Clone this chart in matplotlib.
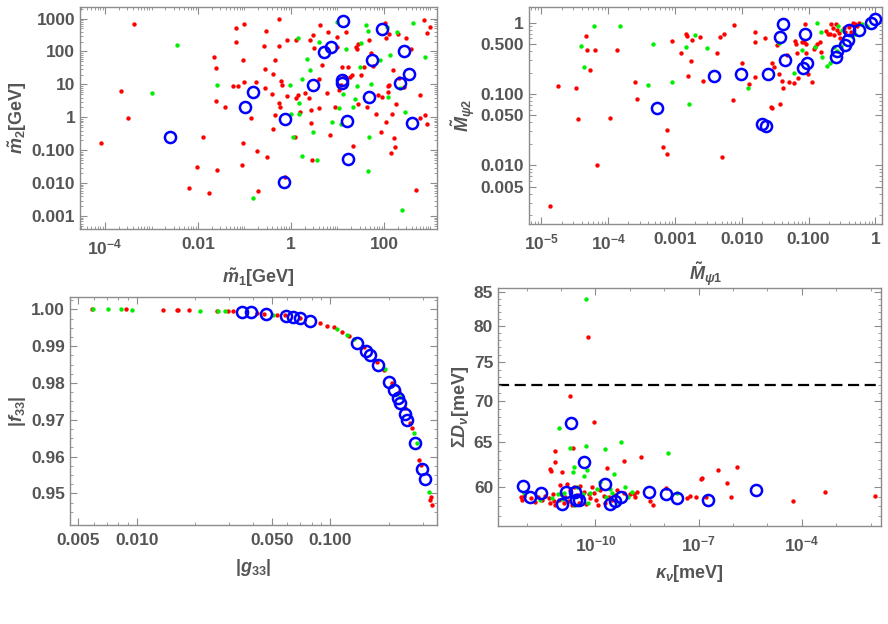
import matplotlib
matplotlib.use('Agg')
import matplotlib.pyplot as plt
from matplotlib.ticker import FixedLocator, NullFormatter, LogLocator

# ---------------- panel 1: m1 vs m2 ----------------
p1_red_x = [8.2e-5, 2.2e-4, 3.2e-4, 4.2e-4, 6.5e-3, 9.5e-3, 0.013, 0.017, 0.022, 0.024, 0.024, 0.039,
            0.026, 0.058, 0.065, 0.067, 0.071, 0.093, 0.09, 0.093, 0.10, 0.10, 0.135, 0.18, 0.19, 0.20,
            0.29, 0.30, 0.26, 0.27, 0.28, 0.42, 0.39, 0.42, 0.46, 0.55, 0.54, 0.54, 0.58, 0.60, 0.64,
            0.45, 0.74, 0.83, 0.83, 1.2, 1.3, 1.4, 1.3, 1.6, 2.0, 2.4, 2.6, 2.7, 2.7, 2.9, 3.0, 3.2,
            4.0, 4.1, 4.2, 4.6, 6.0, 6.2, 6.9, 8.7, 9.6, 10, 11, 12, 12.6, 14, 15, 17, 19, 21, 22, 25,
            26, 28, 27, 32, 38, 43, 48, 52, 59, 67, 73, 85, 91, 105, 109, 110, 120, 120, 126, 130, 139,
            148, 158, 167, 175, 180, 196, 208, 265, 295, 380, 500, 610, 610, 710, 760, 830, 850, 1000]
p1_red_y = [0.17, 6.4, 0.93, 700, 0.0071, 0.032, 0.25, 0.005, 69, 32, 3.1, 2.0,
            0.026, 8.9, 520, 195, 8.9, 55, 0.036, 0.17, 700, 12, 0.93, 12, 0.098, 0.006,
            415, 0.065, 150, 30, 7.6, 21, 5, 0.43, 55, 950, 145, 2.7, 2.1, 13, 9.6,
            1.2, 0.016, 220, 4.4, 0.26, 220, 4.7, 3.8, 1.5, 5.6, 4.0, 220, 1.7, 0.69, 0.051, 310, 130,
            15, 1.9, 630, 39, 5.4, 400, 0.29, 2.1, 140, 280, 6.7, 9.6, 33, 18, 380, 35, 17, 19, 0.135, 138,
            123, 174, 2.5, 19, 35, 2.0, 220, 87, 37, 1.3, 4.7, 0.37, 4.2, 740, 265, 0.74, 8.9, 6, 350, 9.6, 0.081,
            1.26, 27, 0.23, 0.13, 2.6, 350, 16, 8.1, 260, 115, 0.0063, 4.7, 0.98, 930, 1.17, 355, 0.63, 560]
p1_green_x = [3.5e-3, 1.0e-3, 0.025, 0.155, 0.95, 1.0, 1.1, 1.4, 1.5, 1.5, 1.7, 1.7, 2.2, 2.6, 3.0,
              3.7, 4.1, 7.5, 10, 11, 12, 13, 15, 22, 24, 26, 30, 32, 42, 45, 47, 45, 52, 82, 114,
              135, 120, 190, 220, 280, 240, 430, 760]
p1_green_y = [155, 5.4, 9.6, 0.0037, 9.6, 1.23, 0.26, 265, 2.8, 1.26, 15, 0.069, 59, 27, 0.35,
              0.051, 195, 0.74, 790, 1.9, 0.63, 5.1, 117, 2.1, 3.5, 8.9, 35, 182, 630, 430, 0.26, 0.024, 10, 55, 560,
              78, 4.2, 400, 7.6, 1.5, 0.0015, 710, 69]
p1_blue_x = [2.5e-3, 0.105, 0.155, 0.71, 0.74, 3.0, 5.1, 7.2, 12.3, 12.3, 13.4, 15.8, 17, 48, 54,
             91, 220, 275, 350, 405]
p1_blue_y = [0.26, 2.05, 5.7, 0.011, 0.87, 9.6, 98, 138, 13.5, 11.2, 850, 0.78, 0.053, 4.2, 55,
             465, 10.7, 105, 21, 0.66]

# ---------------- panel 2: M_psi1 vs M_psi2 ----------------
p2_red_x = [1.33e-5, 1.74e-5, 3.3e-5, 3.5e-5, 4.7e-5, 4.8e-5, 5.4e-5, 6.3e-5, 6.8e-5, 1.08e-4, 1.36e-4,
            2.5e-4, 2.7e-4, 6.6e-4, 7.7e-4, 7.7e-4, 9.1e-4, 1.24e-3, 1.48e-3, 1.53e-3, 1.58e-3, 1.76e-3,
            1.82e-3, 2.4e-3, 2.66e-3, 4.3e-3, 4.8e-3, 5.0e-3, 5.4e-3, 7.3e-3, 7.7e-3, 0.010, 0.0157,
            0.0158, 0.0158, 0.013, 0.022, 0.027, 0.028, 0.0285, 0.030, 0.034, 0.036, 0.0376, 0.040,
            0.041, 0.048, 0.051, 0.060, 0.063, 0.066, 0.068, 0.070, 0.081, 0.086, 0.089, 0.092, 0.093,
            0.099, 0.111, 0.122, 0.126, 0.148, 0.153, 0.182, 0.193, 0.216, 0.23, 0.243, 0.257, 0.27,
            0.29, 0.335, 0.35, 0.41, 0.47, 0.50, 0.53, 0.58, 0.44, 0.21, 0.30, 0.135]
p2_red_y = [0.0027, 0.13, 0.123, 0.045, 0.65, 0.42, 0.215, 0.42, 0.010, 0.046, 0.42,
            0.148, 0.085, 0.018, 0.031, 0.0144, 0.55, 0.37, 0.70, 0.66, 0.18, 0.29,
            0.57, 0.62, 0.154, 0.38, 0.64, 0.013, 0.69, 0.083, 0.92, 0.27, 0.74,
            0.54, 0.175, 0.136, 0.60, 0.066, 0.064, 0.27, 0.24, 0.48, 0.19, 0.072, 0.154,
            0.123, 0.35, 0.148, 0.144, 0.55, 0.51, 0.37, 0.17, 0.54, 0.54, 0.97, 0.51, 0.37,
            0.19, 0.148, 0.43, 0.46, 0.54, 0.39, 0.76, 0.70, 0.95, 0.85, 0.68, 0.97, 0.78,
            0.72, 0.83, 0.74, 0.87, 0.99, 0.95, 0.89, 0.99, 0.74, 0.70, 0.60, 0.51]
p2_green_x = [3.9e-5, 4.3e-5, 6.2e-5, 1.48e-4, 3.9e-4, 4.7e-4, 9.1e-4, 1.48e-3, 1.62e-3, 2.0e-3,
              3.05e-3, 0.0124, 0.036, 0.061, 0.081, 0.124, 0.133, 0.153, 0.158, 0.19, 0.21, 0.243,
              0.28, 0.305, 0.32, 0.45, 0.50, 0.63, 0.75, 0.27]
p2_green_y = [0.47, 0.24, 0.90, 0.91, 0.134, 0.51, 0.148, 0.46, 0.072, 0.67,
              0.44, 0.12, 0.52, 0.195, 0.41, 0.46, 0.99, 0.74, 0.33, 0.25, 0.27, 0.45,
              0.89, 0.47, 0.80, 0.65, 0.70, 0.97, 0.91, 0.40]
p2_blue_x = [5.4e-4, 3.8e-3, 9.7e-3, 0.0204, 0.023, 0.0245, 0.0376, 0.041, 0.044, 0.084, 0.088,
             0.094, 0.26, 0.27, 0.355, 0.385, 0.40, 0.58, 0.87, 1.0]
p2_blue_y = [0.064, 0.18, 0.19, 0.038, 0.036, 0.19, 0.63, 0.97, 0.30, 0.235, 0.70,
             0.27, 0.33, 0.40, 0.48, 0.58, 0.80, 0.78, 1.0, 1.14]

# ---------------- panel 3: |g33| vs |f33| ----------------
p3_red_x = [0.00585, 0.0088, 0.01374, 0.0161, 0.0164, 0.0187, 0.0259, 0.0298, 0.0316, 0.0418, 0.0452,
            0.053, 0.0585, 0.070, 0.0888, 0.0962, 0.104, 0.1148, 0.1244, 0.1487, 0.174, 0.189, 0.2085,
            0.2256, 0.244, 0.257, 0.264, 0.286, 0.294, 0.329, 0.3355, 0.333]
p3_red_y = [1.0000, 1.0000, 0.9998, 0.9998, 0.9998, 0.9998, 0.9996, 0.9995, 0.9995, 0.9991, 0.9989,
            0.9986, 0.9985, 0.9977, 0.9962, 0.9956, 0.9951, 0.9939, 0.9928, 0.9899, 0.9858, 0.9835, 0.9799,
            0.9776, 0.9731, 0.9690, 0.9677, 0.9591, 0.9577, 0.9482, 0.9468, 0.9491]
p3_green_x = [0.00597, 0.00714, 0.00826, 0.0095, 0.0213, 0.0264, 0.0286, 0.0509, 0.108, 0.122, 0.132,
              0.192, 0.230, 0.270, 0.323, 0.281]
p3_green_y = [1.0000, 1.0000, 1.0000, 0.9999, 0.9996, 0.9996, 0.9995, 0.9986, 0.9948, 0.9930, 0.9921,
              0.9837, 0.9763, 0.9663, 0.9505, 0.9636]
p3_blue_x = [0.0352, 0.0389, 0.0467, 0.0592, 0.0641, 0.070, 0.0788, 0.1374, 0.1535, 0.161, 0.1766,
             0.2018, 0.2134, 0.2229, 0.2284, 0.2432, 0.250, 0.274, 0.299, 0.3076]
p3_blue_y = [0.9993, 0.9992, 0.9989, 0.9983, 0.9980, 0.9976, 0.9968, 0.9908, 0.9887, 0.9876, 0.9849,
             0.9802, 0.9781, 0.9758, 0.9747, 0.9715, 0.9699, 0.9638, 0.9565, 0.9539]

# ---------------- panel 4: kappa_nu vs Sum D_nu ----------------
p4_red_x = [1.78e-11, 8.9e-11, 6.0e-11, 2.2e-11, 6.9e-12, 6.6e-12, 4.9e-12, 5.1e-12, 1.05e-11, 2.1e-9,
            6.7e-10, 2.2e-10, 3.7e-7, 1.29e-6, 1.2e-7, 1.25e-7, 6.6e-7, 4.6e-4, 1.3e-2, 5.6e-5,
            6.8e-13, 7.2e-13, 8.2e-13, 1.35e-12, 1.8e-12, 2.2e-12, 2.9e-12, 3.5e-12, 4.4e-12, 4.9e-12,
            5.9e-12, 6.1e-12, 6.8e-12, 8.5e-12, 9.1e-12, 1.0e-11, 1.2e-11, 1.34e-11, 1.5e-11, 1.66e-11,
            1.87e-11, 2.1e-11, 2.45e-11, 2.9e-11, 3.3e-11, 3.6e-11, 4.1e-11, 4.6e-11, 5.5e-11, 6.4e-11,
            7.1e-11, 8.0e-11, 9.3e-11, 1.07e-10, 1.17e-10, 1.4e-10, 1.75e-10, 1.96e-10, 2.45e-10, 3.1e-10,
            3.8e-10, 4.3e-10, 6.7e-10, 1.05e-9, 1.37e-9, 1.46e-9, 1.6e-9, 3.8e-9, 4.7e-9, 1.15e-8,
            4.5e-8, 5.5e-8, 8.4e-8, 1.6e-7, 8.5e-7]
p4_red_y = [70.6, 67.4, 78.4, 64.3, 64.0, 62.8, 62.0, 61.8, 61.7, 63.3,
            62.9, 62.1, 61.9, 62.2, 60.9, 61.0, 60.5, 59.5, 59.1, 58.5,
            59.0, 58.7, 59.07, 58.83, 58.48, 58.95, 58.66, 59.07, 58.83, 58.31,
            59.29, 58.59, 58.14, 58.7, 60.25, 59.29, 58.31, 59.0, 60.36, 58.59,
            59.71, 58.14, 60.07, 59.18, 58.31, 60.14, 59.0, 59.53, 58.2, 59.29,
            58.83, 60.0, 59.43, 58.66, 58.14, 59.71, 59.07, 58.31, 58.95, 58.7,
            59.18, 59.71, 59.43, 59.29, 59.29, 58.95, 59.53, 58.59, 58.1, 59.96,
            58.9, 59.07, 59.0, 59.0, 58.95]
p4_green_x = [5.2e-11, 8.5e-12, 1.87e-11, 5.2e-11, 1.96e-10, 5.7e-10, 1.26e-8, 2.45e-11, 2.3e-11,
              5.7e-11, 4.6e-11, 3.6e-10, 8.7e-13, 2.5e-12, 5.5e-12, 8.0e-12, 1.07e-11, 1.25e-11,
              2.45e-11, 2.9e-11, 4.4e-11, 6.0e-11, 7.1e-11, 1.1e-10, 1.4e-10, 2.1e-10, 2.7e-10,
              3.1e-10, 4.8e-10, 7.5e-10, 8.9e-10, 1.17e-9, 2.4e-8]
p4_green_y = [83.9, 66.7, 64.3, 64.6, 64.2, 65.1, 63.8, 62.2, 61.7,
              61.9, 61.2, 61.4, 59.36, 58.7, 58.83, 59.29, 58.77, 59.36,
              58.14, 60.07, 59.29, 58.31, 59.43, 59.78, 60.54, 59.0, 59.78,
              59.36, 58.31, 60.0, 58.95, 59.53, 59.43]
p4_blue_x = [1.9e-11, 4.6e-11, 1.95e-10, 7.9e-13, 4.7e-6, 1.3e-12, 2.6e-12, 1.4e-11, 2.5e-11, 2.7e-11,
             3.4e-11, 1.1e-11, 2.6e-10, 3.7e-10, 5.5e-10, 3.6e-9, 1.1e-8, 2.3e-8, 1.9e-7]
p4_blue_y = [67.3, 62.8, 60.3, 60.1, 59.75, 59.0, 59.4, 59.5, 59.5, 58.7,
             58.7, 58.2, 58.2, 58.5, 59.0, 59.5, 59.3, 58.9, 58.7]
p4_bound = 72

TXT = '#555555'
FRAME = '#8c8c8c'

plt.rcParams['font.family'] = ['Liberation Sans', 'DejaVu Sans']
plt.rcParams['font.weight'] = 'bold'
plt.rcParams['mathtext.fontset'] = 'custom'
plt.rcParams['mathtext.rm'] = 'Liberation Sans:bold'
plt.rcParams['mathtext.it'] = 'Liberation Sans:bold:italic'
plt.rcParams['mathtext.bf'] = 'Liberation Sans:bold'


def draw(ax, rx, ry, gx, gy, bx, by):
    ax.scatter(rx, ry, s=10, color='#ff0000', linewidths=0, zorder=2)
    ax.scatter(gx, gy, s=10, color='#00ee00', linewidths=0, zorder=3)
    ax.plot(bx, by, 'o', ms=8, mfc='none', mec='#0000ff', mew=1.8, zorder=4)


def style(ax, xlabel, ylabel):
    for s in ax.spines.values():
        s.set_color(FRAME)
        s.set_linewidth(1.0)
    ax.tick_params(which='both', direction='in', top=True, right=True, colors=FRAME,
                   labelcolor=TXT, labelsize=12.5)
    ax.tick_params(which='major', length=5)
    ax.tick_params(which='minor', length=2.5)
    ax.tick_params(axis='x', which='major', pad=6)
    ax.set_xlabel(xlabel, color=TXT, fontsize=13, fontweight='bold', labelpad=6)
    ax.set_ylabel(ylabel, color=TXT, fontsize=13, fontweight='bold', labelpad=2)


fig = plt.figure(figsize=(8.88, 6.24), dpi=100)

# panel 1
ax1 = fig.add_axes([0.0901, 0.633, 0.402, 0.3558])
draw(ax1, p1_red_x, p1_red_y, p1_green_x, p1_green_y, p1_blue_x, p1_blue_y)
ax1.set_xscale('log')
ax1.set_yscale('log')
ax1.set_xlim(2.9e-5, 1380)
ax1.set_ylim(4.1e-4, 2240)
ax1.set_xticks([1e-4, 1e-2, 1, 100], [r'$10^{-4}$', '0.01', '1', '100'])
ax1.xaxis.set_minor_locator(LogLocator(base=10, subs=(1.0, 2, 3, 4, 5, 6, 7, 8, 9), numticks=20))
ax1.set_yticks([1000, 100, 10, 1, 0.1, 0.01, 0.001],
               ['1000', '100', '10', '1', '0.100', '0.010', '0.001'])
ax1.yaxis.set_minor_locator(LogLocator(base=10, subs=(2, 3, 4, 5, 6, 7, 8, 9), numticks=20))
ax1.xaxis.set_minor_formatter(NullFormatter())
ax1.yaxis.set_minor_formatter(NullFormatter())
style(ax1, r'$\tilde{m}_1$[GeV]', r'$\tilde{m}_2$[GeV]')

# panel 2
ax2 = fig.add_axes([0.5957, 0.641, 0.3975, 0.3478])
draw(ax2, p2_red_x, p2_red_y, p2_green_x, p2_green_y, p2_blue_x, p2_blue_y)
ax2.set_xscale('log')
ax2.set_yscale('log')
ax2.set_xlim(6.5e-6, 1.26)
ax2.set_ylim(1.5e-3, 1.66)
ax2.set_xticks([1e-5, 1e-4, 1e-3, 1e-2, 0.1, 1],
               [r'$10^{-5}$', r'$10^{-4}$', '0.001', '0.010', '0.100', '1'])
ax2.set_yticks([1, 0.5, 0.1, 0.05, 0.01, 0.005], ['1', '0.500', '0.100', '0.050', '0.010', '0.005'])
ax2.xaxis.set_minor_locator(LogLocator(base=10, subs=(2, 3, 4, 5, 6, 7, 8, 9), numticks=20))
ax2.yaxis.set_minor_locator(LogLocator(base=10, subs=(2, 3, 4, 6, 7, 8, 9), numticks=20))
ax2.xaxis.set_minor_formatter(NullFormatter())
ax2.yaxis.set_minor_formatter(NullFormatter())
style(ax2, r'$\tilde{M}_{\psi 1}$', r'$\tilde{M}_{\psi 2}$')

# panel 3
ax3 = fig.add_axes([0.0788, 0.1587, 0.4133, 0.3654])
draw(ax3, p3_red_x, p3_red_y, p3_green_x, p3_green_y, p3_blue_x, p3_blue_y)
ax3.set_xscale('log')
ax3.set_xlim(0.00452, 0.356)
ax3.set_ylim(0.9414, 1.0034)
ax3.set_xticks([0.005, 0.01, 0.05, 0.1], ['0.005', '0.010', '0.050', '0.100'])
ax3.xaxis.set_minor_locator(LogLocator(base=10, subs=(1, 2, 3, 4, 5, 6, 7, 8, 9), numticks=20))
ax3.xaxis.set_minor_formatter(NullFormatter())
ax3.set_yticks([1.0, 0.99, 0.98, 0.97, 0.96, 0.95], ['1.00', '0.99', '0.98', '0.97', '0.96', '0.95'])
ax3.yaxis.set_minor_locator(FixedLocator([0.945 + 0.0025 * i for i in range(24)]))
style(ax3, r'$|g_{33}|$', r'$|f_{33}|$')

# panel 4
ax4 = fig.add_axes([0.5608, 0.1571, 0.4313, 0.3814])
draw(ax4, p4_red_x, p4_red_y, p4_green_x, p4_green_y, p4_blue_x, p4_blue_y)
ax4.axhline(p4_bound, color='black', lw=1.6, ls=(0, (5, 2.5)), zorder=1)
ax4.set_xscale('log')
ax4.set_yscale('log')
ax4.set_xlim(1.48e-13, 0.02)
ax4.set_ylim(56.0, 85.6)
ax4.set_xticks([1e-10, 1e-7, 1e-4], [r'$10^{-10}$', r'$10^{-7}$', r'$10^{-4}$'])
ax4.xaxis.set_minor_locator(FixedLocator([10.0 ** k for k in range(-13, -1)]))
ax4.xaxis.set_minor_formatter(NullFormatter())
ax4.set_yticks([60, 65, 70, 75, 80, 85], ['60', '65', '70', '75', '80', '85'])
ax4.yaxis.set_minor_locator(FixedLocator(list(range(56, 86))))
ax4.yaxis.set_minor_formatter(NullFormatter())
style(ax4, r'$\kappa_\nu$[meV]', r'$\Sigma D_\nu$[meV]')

fig.savefig('out.png', dpi=100)
